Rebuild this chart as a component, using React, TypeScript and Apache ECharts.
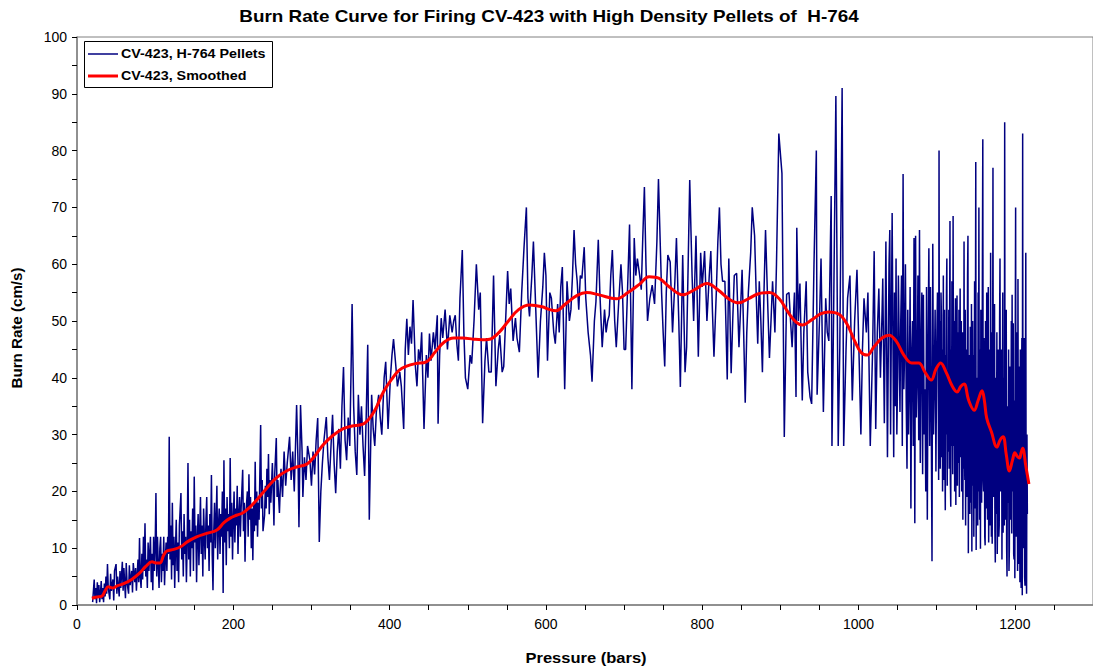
import React, { useEffect, useRef } from "react";
import * as echarts from "echarts";

const titleText = "Burn Rate Curve for Firing CV-423 with High Density Pellets of  H-764";
const xAxisTitle = "Pressure (bars)";
const yAxisTitle = "Burn Rate (cm/s)";
const rawName = "CV-423, H-764 Pellets";
const smoothName = "CV-423, Smoothed";
const xTickValues = [0, 200, 400, 600, 800, 1000, 1200];
const yTickValues = [0, 10, 20, 30, 40, 50, 60, 70, 80, 90, 100];

// [pressure (bars), burn rate (cm/s)]
const rawLow: number[][] = [
  [20,0.5],[21,2.5],[22,4.5],[23,1],[24,3],[25,0.3],[26,4],[27,1.5],[28,3.5],[29,0.5],[30,2],[31,4.2],[32,1],[33,3],[34,0.5],[35,3.8],[36,1.5],[37,5],[38,2],[39,7.2],[40,3],[42,1],[43,5.5],[44,2.5],[46,4.5],[47,0.8],[48,6],[50,7.2],[51,2],[52,5],[54,1.5],[55,6],[56,3],[58,7.6],[59,2.5],[60,6.5],[62,1.2],[63,7.4],[64,4],[66,2],[67,7],[68,3.5],[70,6],[71,2.2],[72,7.4],[74,4],[75,6.5],[76,2.5],[78,8],[79,4],[80,11.8],[81,5],[82,3],[83,9],[84,4.5],[85,12],[86,6],[87,14.4],[88,5],[89,8],[90,3],[91,11],[92,6],[94,12],[95,4],[96,9],[97,2.6],[98,12],[99,6],[100,10],[101,19.7]
];
const rawRise: number[][] = [
  [102,5],[103,12],[104,7],[105,3],[106,10],[107,12],[108,4],[109,9],[110,6],[111,12],[112,3.5],[113,8],[114,11],[115,6],[116,12],[117,9],[118,29.6],[119,8],[120,14],[121,4.5],[122,18],[123,7],[124,12],[125,3],[126,10],[127,15],[128,6],[129,11],[130,4],[131,14],[133,19.7],[134,8],[135,13],[136,5],[137,16],[138,9],[139,12],[140,4],[141,11],[142,25],[143,8],[144,15],[145,5],[146,13],[147,10],[148,17],[149,6],[150,22.6],[151,11],[152,14],[153,4],[154,12],[155,16],[156,7],[157,13],[158,19],[159,9],[160,14],[161,5],[162,17],[163,12],[164,8],[165,15],[166,19],[167,10],[168,14],[169,6],[170,16],[171,11],[172,22.9],[173,9],[174,2.6],[175,13],[176,18],[177,10],[178,15],[179,21],[180,8],[181,14],[182,17],[183,9],[184,16],[185,12],[186,20],[187,2.1],[188,25.5],[189,11],[190,17],[191,7],[192,19],[193,13],[194,16],[195,10],[196,25.9],[197,12],[198,18],[199,8],[200,15],[201,20],[202,11],[203,17],[204,14],[205,21],[206,9],[207,16],[208,19],[209,12],[210,17],[212,23.8],[213,13],[214,18],[215,7.6],[216,16],[218,20],[219,12],[220,23],[221,15],[222,19],[223,10],[224,17],[225,7.9],[226,18],[227,13],[228,25.2],[229,14],[230,20],[231,12],[232,18],[233,15],[235,31.7],[236,17],[237,22],[238,13],[240,15.8],[241,21],[242,17],[243,24],[244,19],[245,26.6],[246,16],[247,22],[248,18],[250,25],[251,20],[252,14],[253,23],[255,29.4],[256,19],[257,22],[259,16.2]
];
const rawMid: number[][] = [
  [261,24],[263,19],[265,27],[267,21],[269,25],[272,29.6],[274,22],[276,27],[278,20],[281,35.2],[283,24],[284,13.7],[286,35.2],[288,27],[289,19],[291,26],[293,22],[295,28],[298,25.5],[300,21],[302,27],[304,23],[306,29],[308,32.9],[310,11.1],[312,20],[314,25],[316,29],[319,33.1],[321,26],[323,22],[325,28],[327,33.5],[329,25],[331,19.7],[333,27],[335,31],[337,24],[339,35],[341,41.9],[343,29],[345,25.5],[347,33],[349,28],[351,44],[352,53],[354,35],[356,27],[358,22.9],[360,37],[362,30],[364,35],[366,28],[368,22.7],[370,33],[372,45.8],[374,15],[377,37],[379,31],[381,28],[383,34],[386,37],[388,33],[390,30],[393,40],[395,42.8],[397,35],[398,31],[401,40],[403,44],[405,46.8]
];
const rawPlateau: number[][] = [
  [408,42],[410,38.5],[413,41],[415,38.5],[418,31],[420,45],[422,50.4],[424,44],[426,49],[428,46],[430,53.7],[433,42],[435,38.5],[437,45],[439,43],[441,48],[444,31],[447,44],[449,40],[451,47.8],[453,43],[456,48],[458,45],[461,51],[462,31.9],[464,44],[466,50.5],[468,47],[471,52],[474,45],[477,51],[480,48],[482,50],[484,51],[486,46],[488,43],[490,54],[493,62.5],[495,48],[497,40],[500,38],[503,44],[505,42.5],[508,50],[511,60],[514,52],[516,55],[519,32],[522,43],[524,47],[527,41],[530,41],[533,58],[536,38.5],[539,45],[541,47.5],[544,41],[546,42],[549,52],[551,58.8],[553,53],[555,55.7],[558,46.5],[561,50.5],[563,47],[566,44.5],[569,55],[572,63],[575,70],[577,54],[579,50.8],[582,58],[584,64],[587,52],[590,40],[593,50],[596,56],[598,62],[600,58],[602,43],[605,55],[607,54],[610,48],[612,46],[615,53],[617,48],[619,56],[621,59.5],[624,38],[627,57],[630,50],[632,52],[634,58],[636,66],[638,60],[640,57],[642,52],[644,58],[646,57.5],[649,63],[651,54],[654,48],[657,44],[659,39.3],[662,50],[664,53.4],[667,64.3],[669,55],[672,45.4],[675,52],[677,48],[679,50],[681,51],[683,58],[685,62.5],[688,50],[690,45.4],[693,53],[696,60],[698,55],[700,45],[702,45],[705,58],[707,67],[710,38],[713,64.6],[715,58],[717,61],[720,58],[722,55.5],[724,65],[726,73.6],[728,60],[730,50],[733,54],[736,56.3],[739,53],[742,64],[744,75],[748,55],[750,48],[752,42],[754,55],[756,61.6],[759,60.4],[762,48],[765,57],[767,64.6],[770,50],[772,38.4],[775,61.6],[778,41],[780,45.4],[782,60],[784,74.8],[787,58],[789,50],[792,65],[795,43.7],[798,62],[800,56],[803,62.3],[806,50],[809,58],[811,62.3],[813,52],[815,43.7],[818,55],[820,64],[822,70],[824,60],[826,57],[829,57],[832,39.7],[834,61],[837,40.8],[839,50],[841,58],[844,58.4],[847,45.4],[849,52],[851,59],[853,48],[855,35.6],[857,48],[859,55],[862,62],[864,70],[867,65],[869,55],[871,46],[873,57],[875,50],[877,41],[879,55],[881,66],[884,52],[886,43.5],[888,50],[890,57],[893,48],[895,60]
];
const rawHigh: number[][] = [
  [898,83],[902,76],[905,29.6],[908,54.7],[911,55],[913,50],[915,45.4],[918,55],[920,36.6],[921,66.4],[923,50],[925,56.6],[928,36],[930,48],[933,57],[935,41],[938,36.6],[940,35.4],[943,60],[946,80],[947,37],[950,50],[952,61],[955,34],[958,54],[960,48],[962,46.5],[965,72],[966,28],[968,50],[971,89.6],[974,28],[976,45],[979,91],[981,28],[984,45],[986,54],[989,58],[992,36],[995,50],[998,59],[1001,42],[1003,30],[1005,45],[1007,54],[1010,48],[1012,55],[1015,28],[1018,45],[1020,62.3],[1022,31],[1024,48],[1026,55.7],[1028,40],[1030,51],[1031,57.5],[1033,32],[1035,64],[1037,26],[1039,60],[1040,66],[1041,30],[1043,69],[1045,26],[1046,55],[1047,35],[1048,61],[1049,30],[1050,40],[1051,58],[1053,34],[1054,50],[1055,58],[1056,28],[1057,75.9],[1058,38],[1059,45],[1060,60],[1061,35.8],[1062,24],[1063,52],[1064,30],[1065,40],[1066,56],[1067,17],[1068,44],[1069,50],[1070,28],[1071,64.6],[1072,14.4],[1073,65],[1074,33],[1075,40],[1076,58],[1077,29],[1078,66],[1079,25],[1080,45],[1081,55],[1082,23],[1083,54.6],[1084,30],[1085,38],[1086,20],[1087,56],[1088,15],[1089,45],[1090,62.8],[1091,28],[1092,56],[1093,35],[1094,7.7],[1095,63.6],[1096,30],[1097,40],[1098,52],[1099,23.5],[1100,45],[1101,55]
];
const rawEnd: number[][] = [
  [1102,40],[1102.5,22],[1103,80],[1103.5,28],[1104,50],[1104.5,24],[1105,32],[1105.5,55],[1106,51],[1106.5,26],[1107,45],[1107.5,20],[1108,30],[1108.5,58],[1109,22],[1109.5,47],[1110,52],[1110.5,25],[1111,16.7],[1111.5,44],[1112,30],[1112.5,55],[1113,61],[1113.5,21],[1114,40],[1114.5,27],[1115,35],[1115.5,52],[1116,24],[1116.5,48],[1117,67.6],[1117.5,22],[1118,17.3],[1118.5,45],[1119,28],[1119.5,57],[1120,50],[1120.5,23],[1121,68.5],[1121.5,30],[1122,28],[1122.5,50],[1123,20],[1123.5,46],[1124,54],[1124.5,17.6],[1125,42],[1125.5,27],[1126,54.5],[1126.5,21],[1127,48],[1127.5,33],[1128,25],[1128.5,52],[1129,19],[1129.5,44],[1130,55.7],[1130.5,26],[1131,30],[1131.5,50],[1132,20],[1132.5,42],[1133,48],[1133.5,15],[1134,38],[1134.5,24],[1135,64],[1135.5,28],[1136,22],[1136.5,52],[1137,14],[1137.5,40],[1138,45],[1138.5,19],[1139,35],[1139.5,58],[1140,65],[1140.5,9.1],[1141,44],[1141.5,23],[1142,40],[1142.5,16],[1143,49],[1143.5,26],[1144,18],[1144.5,53],[1145,9.4],[1145.5,38],[1146,50],[1146.5,21],[1147,44],[1147.5,12],[1148,30],[1148.5,57],[1149,17],[1149.5,42],[1150,78],[1150.5,9.7],[1151,36],[1151.5,24],[1152,40],[1152.5,14],[1153,55],[1153.5,20],[1154,70],[1154.5,28],[1155,15],[1155.5,45],[1156,9.9],[1156.5,52],[1157,45],[1157.5,18],[1158,34],[1158.5,60],[1159,82],[1159.5,22],[1160,20],[1160.5,47],[1161,30],[1161.5,12],[1162,10.5],[1162.5,50],[1163,40],[1163.5,17],[1164,55],[1164.5,25],[1165,15],[1165.5,42],[1166,56],[1166.5,11],[1167,20],[1167.5,38],[1168,45],[1168.5,14],[1169,62],[1169.5,24],[1170,12],[1170.5,48],[1171,10.8],[1171.5,33],[1172,77],[1172.5,19],[1173,25],[1173.5,44],[1174,53],[1174.5,13],[1175,7.5],[1175.5,40],[1176,35],[1176.5,16],[1177,48],[1177.5,9],[1178,18],[1178.5,45],[1179,28],[1179.5,12],[1180,14],[1180.5,50],[1181,61],[1181.5,22],[1182,20],[1182.5,36],[1183,45],[1183.5,8],[1184,30],[1184.5,55],[1185,12.7],[1185.5,38],[1186,40],[1186.5,14],[1187,85],[1187.5,20],[1188,15],[1188.5,44],[1189,52],[1189.5,10],[1190,5],[1190.5,34],[1191,35],[1191.5,18],[1192,45],[1192.5,6],[1193,10],[1193.5,42],[1194,40],[1194.5,15],[1195,30],[1195.5,50],[1196,12.6],[1196.5,54.6],[1197,20],[1197.5,38],[1198,49.6],[1198.5,9],[1199,8],[1199.5,36],[1200,4.7],[1200.5,45],[1201,70],[1201.5,12],[1202,15],[1202.5,48],[1203,40],[1203.5,6],[1204,57.4],[1204.5,18],[1205,7.2],[1205.5,42],[1206,30],[1206.5,4],[1207,45],[1207.5,14],[1208,3],[1208.5,38],[1209,47],[1209.5,1.7],[1210,83],[1210.5,10],[1211,10],[1211.5,40],[1212,47],[1212.5,5],[1213,3.4],[1213.5,35],[1214,62],[1214.5,8],[1215,2],[1215.5,30],[1216,16]
];
const smoothed: number[][] = [
  [19,1.2],[25,1.4],[32,1.6],[36,2.5],[40,3.2],[46,3.0],[52,3.4],[59,3.7],[70,4.5],[80,5.6],[88,6.8],[96,7.6],[101,7.4],[106,7.4],[111,8.8],[115,9.5],[124,9.8],[132,10.2],[142,11.2],[153,12],[166,12.6],[179,13.2],[188,14.5],[196,15.3],[204,15.8],[212,16.2],[221,17.2],[230,18.5],[243,20.6],[255,22.4],[268,23.6],[281,24.3],[294,24.8],[304,26.2],[315,28.2],[327,29.8],[340,31],[352,31.5],[362,31.7],[368,32],[374,32.8],[382,34.5],[392,37.5],[404,40],[412,41.3],[421,42],[433,42.5],[447,42.8],[458,44.5],[470,46.3],[482,47],[494,47],[507,46.8],[518,46.7],[528,46.8],[540,48],[552,50],[565,52],[579,52.8],[595,52.5],[605,52],[613,51.8],[625,53],[640,54.5],[652,55],[668,54.6],[690,53.9],[705,55],[720,56.5],[732,57.8],[745,57.5],[758,56],[775,54.6],[790,55.5],[806,56.6],[820,55.5],[835,53.8],[847,53.2],[860,54],[872,54.8],[886,55],[898,54],[910,51.5],[920,49.8],[928,49.3],[940,50.2],[952,51.3],[962,51.6],[975,51.2],[985,49.5],[995,46.5],[1003,44.5],[1011,44],[1020,45.5],[1030,47],[1039,47.5],[1048,46.5],[1058,44],[1068,42.6],[1077,42.6],[1085,41],[1093,39.6],[1099,41.5],[1105,42.6],[1112,41],[1120,38.5],[1126,37.5],[1131,38.5],[1135,38.9],[1141,36],[1148,34.3],[1153,36],[1158,37.7],[1161,36],[1164,32.9],[1170,30.5],[1177,27.8],[1181,29],[1185,29.6],[1189,26.5],[1193,23.6],[1197,25.5],[1200,26.8],[1203,26.2],[1206,25.9],[1208,26.8],[1210,27.6],[1214,24.5],[1218,21.3]
];

const rawData = [...rawLow, ...rawRise, ...rawMid, ...rawPlateau, ...rawHigh, ...rawEnd];

const FONT = "'Liberation Sans', Arial, sans-serif";

export default function App() {
  const ref = useRef<HTMLDivElement>(null);
  useEffect(() => {
    if (!ref.current) return;
    const chart = echarts.init(ref.current, null, { renderer: "svg" });
    const bold = (size: number) => ({
      fontFamily: FONT,
      fontSize: size,
      fontWeight: "bold",
      fill: "#000",
      align: "center",
      verticalAlign: "middle",
    });
    chart.setOption({
      animation: false,
      backgroundColor: "#ffffff",
      textStyle: { fontFamily: FONT },
      grid: {
        left: 77,
        right: 0,
        top: 37,
        bottom: 63,
        show: true,
        borderColor: "#808080",
        borderWidth: 1,
      },
      xAxis: {
        type: "value",
        min: 0,
        max: 1300,
        interval: 200,
        axisLine: { show: true, lineStyle: { color: "#808080", width: 1.5 } },
        axisTick: { show: true, inside: false, length: 5, lineStyle: { color: "#000" } },
        minorTick: { show: true, splitNumber: 4, length: 5, lineStyle: { color: "#000" } },
        splitLine: { show: false },
        axisLabel: {
          fontFamily: FONT,
          fontSize: 14,
          color: "#000",
          margin: 12,
          showMaxLabel: false,
          formatter: (v: number) => (xTickValues.includes(v) ? String(v) : ""),
        },
      },
      yAxis: {
        type: "value",
        min: 0,
        max: 100,
        interval: 10,
        axisLine: { show: true, lineStyle: { color: "#808080", width: 1.5 } },
        axisTick: { show: true, inside: false, length: 5, lineStyle: { color: "#000" } },
        minorTick: { show: true, splitNumber: 2, length: 5, lineStyle: { color: "#000" } },
        splitLine: { show: false },
        axisLabel: {
          fontFamily: FONT,
          fontSize: 14,
          color: "#000",
          margin: 10,
          formatter: (v: number) => (yTickValues.includes(v) ? String(v) : ""),
        },
      },
      graphic: [
        { type: "text", x: 549, y: 17, scaleX: 1.18, style: { ...bold(16), text: titleText } },
        { type: "text", x: 586, y: 658, scaleX: 1.18, style: { ...bold(14), text: xAxisTitle } },
        { type: "text", x: 17, y: 328, rotation: Math.PI / 2, scaleX: 1.08, style: { ...bold(14), text: yAxisTitle } },
        {
          type: "group",
          z: 100,
          children: [
            { type: "rect", shape: { x: 84.5, y: 41.5, width: 188, height: 46 }, style: { fill: "#fff", stroke: "#000", lineWidth: 1 } },
            { type: "line", shape: { x1: 88, y1: 54, x2: 118, y2: 54 }, style: { stroke: "#000080", lineWidth: 1.5 } },
            { type: "text", x: 121, y: 54, scaleX: 1.1, style: { ...bold(13), align: "left", text: rawName } },
            { type: "line", shape: { x1: 88, y1: 76, x2: 118, y2: 76 }, style: { stroke: "#ff0000", lineWidth: 3 } },
            { type: "text", x: 121, y: 76, scaleX: 1.1, style: { ...bold(13), align: "left", text: smoothName } },
          ],
        },
      ],
      series: [
        {
          name: rawName,
          type: "line",
          data: rawData,
          symbol: "none",
          lineStyle: { color: "#000080", width: 1.5 },
          itemStyle: { color: "#000080" },
          z: 2,
        },
        {
          name: smoothName,
          type: "line",
          data: smoothed,
          symbol: "none",
          smooth: 0.4,
          lineStyle: { color: "#ff0000", width: 3 },
          itemStyle: { color: "#ff0000" },
          z: 3,
        },
      ],
    });
    return () => chart.dispose();
  }, []);
  return (
    <div
      ref={ref}
      style={{ position: "fixed", left: 0, top: 0, width: 1093, height: 668, background: "#fff" }}
    />
  );
}
